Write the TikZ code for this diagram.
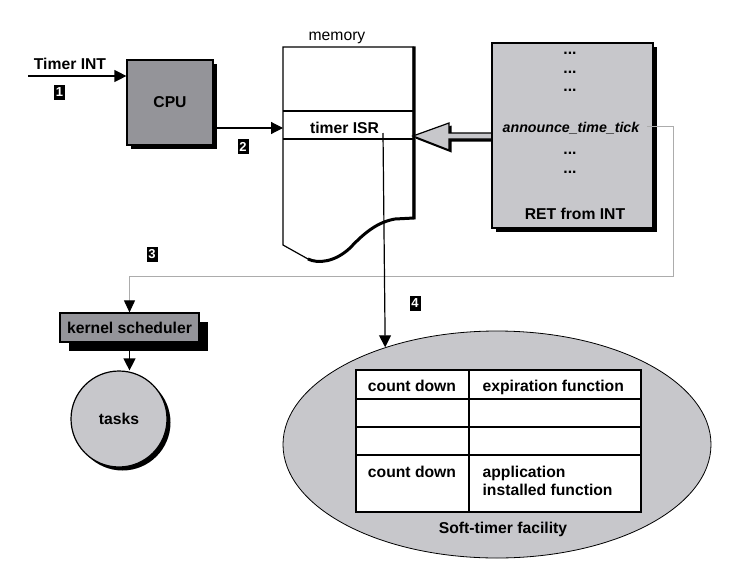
\documentclass[tikz,border=0pt]{standalone}
\usepackage{fontspec}
\setmainfont{Liberation Sans}
\usepackage{tikz}
\usetikzlibrary{arrows.meta,shadows,shapes.geometric}
\definecolor{boxgray}{RGB}{148,148,153}
\definecolor{palegray}{RGB}{199,199,203}
\definecolor{wiregray}{RGB}{172,172,172}
\tikzset{>={Triangle[length=12pt,width=12pt]}}
\tikzset{%
	txt/.style={font=\fontsize{15.7}{18}\selectfont\bfseries, inner sep=0pt},
	plaintxt/.style={font=\fontsize{15.7}{18}\selectfont, inner sep=0pt},
	numbox/.style={fill=black, text=white, inner sep=0pt, minimum width=11pt, minimum height=15pt, font=\fontsize{13}{14}\selectfont\bfseries},
	blackshadow/.style={drop shadow={shadow xshift=#1, shadow yshift=-#1, fill=black, opacity=1}},
	blackshadow/.default=3.5pt,
	wire/.style={draw=wiregray, line width=0.9pt}
}

\begin{document}
\begin{tikzpicture}[x=1pt,y=-1pt,line width=1.2pt]
	\useasboundingbox (0,0) rectangle (744,581);
	% memory
	\filldraw[fill=white] (283,47) -- (413,47) -- (413,218) -- (395,219) .. controls (378,222) and (365,232) .. (350,248) .. controls (335,262) and (318,264) .. (308,259) -- (283,245) -- cycle;
	\draw[line width=3pt] (308,259) .. controls (318,264) and (335,262) .. (350,248) .. controls (365,232) and (378,222) .. (395,219) -- (414,218) -- (414,46.4);
	\draw (283,111) -- (413,111);
	\draw (283,139) -- (413,139);
	\node[plaintxt, anchor=base] (memlabel) at (337,40) {memory};
	\node[txt, anchor=base] (isr) at (344.5,133) {timer ISR};
	\coordinate (isrin) at (283,128);
	\coordinate (isrtap) at (383,133);
	% CPU
	\node[txt, draw, fill=boxgray, blackshadow, minimum width=86pt, minimum height=85pt] (cpu) at (170,102.5) {CPU};
	\coordinate (intin) at (28,76);
	\node[txt, anchor=base] (intlabel) at (70,69) {Timer INT};
	\draw[->] (intin) -- (intin -| cpu.west);
	\draw[->] (isrin -| cpu.east) -- (isrin);
	% handler
	\filldraw[fill=palegray, blackshadow=2.5pt] (413,136) -- (449,123) -- (449,133) -- (492,133) -- (492,139) -- (449,139) -- (449,150) -- cycle;
	\node[draw, fill=palegray, blackshadow=4pt, minimum width=161pt, minimum height=185pt] (ret) at (572.5,135.5) {};
	\foreach \y in {53,72,90,153,172}
		\node[txt] at (570,\y) {...};
	\node[txt, font=\fontsize{14.2}{17}\selectfont\bfseries\itshape, anchor=base] (tick) at (571,132) {announce\_time\_tick};
	\node[txt, anchor=base] (retlabel) at (575,219) {RET from INT};
	% scheduler
	\node[txt, draw, fill=boxgray, blackshadow=9pt, minimum width=139pt, minimum height=29pt] (ks) at (129.5,327.5) {kernel scheduler};
	\node[txt, draw, circle, fill=palegray, blackshadow=3.5pt, minimum size=96pt] (tasks) at (119,419) {tasks};
	\draw[->] (ks.south) -- (ks.south |- tasks.north);
	\coordinate (tickout) at (647,126);
	\coordinate (wirebend) at (673,276);
	\draw[wire, -{Triangle[length=12pt,width=11pt,color=black]}] (tickout) -| (wirebend) -| (ks.north);
	% soft timers
	\node[ellipse, draw, fill=palegray, line width=0.8pt, minimum width=428pt, minimum height=227pt, inner sep=0pt] (soft) at (497,444.5) {};
	\filldraw[fill=white] (356,370) rectangle (641,512);
	\foreach \y in {399,427,455}
		\draw (356,\y) -- (641,\y);
	\draw (469,370) -- (469,512);
	\node[txt, anchor=base] (cd1) at (412,391) {count down};
	\node[txt, anchor=base west] (exp) at (482,391) {expiration function};
	\node[txt, anchor=base] (cd2) at (412,477) {count down};
	\node[txt, anchor=base west] (app) at (482,477) {application};
	\node[txt, anchor=base west] (inst) at (482,495) {installed function};
	\node[txt, anchor=base] (softlabel) at (503,533) {Soft-timer facility};
	\draw[->] (isrtap) -- (soft.139.9);
	% steps
	\node[numbox] (n1) at (59.5,92) {1};
	\node[numbox] (n2) at (243,146.5) {2};
	\node[numbox] (n3) at (152,254.5) {3};
	\node[numbox] (n4) at (415,303) {4};
\end{tikzpicture}
\end{document}
